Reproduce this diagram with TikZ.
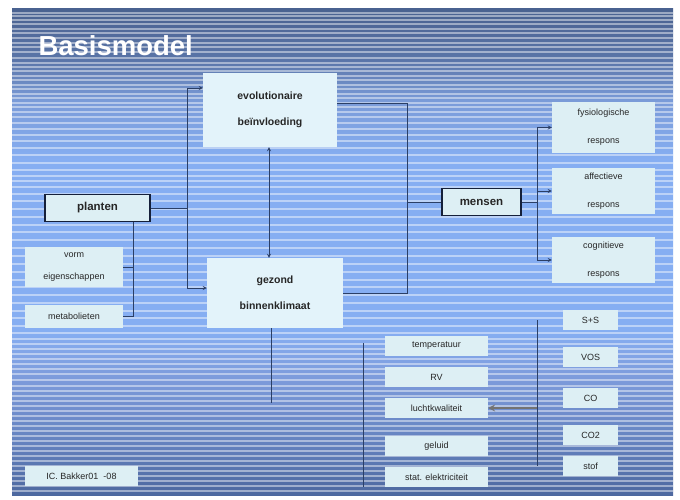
\documentclass[tikz,border=0pt]{standalone}
\usepackage{fontspec}
\setmainfont{Liberation Sans}
\usetikzlibrary{arrows}
\definecolor{linec}{HTML}{2B3F66}
\definecolor{boxc}{HTML}{DDEFF4}
\definecolor{bigboxc}{HTML}{E3F3FA}
\definecolor{framec}{HTML}{15203A}
\definecolor{bgA}{HTML}{4A6290}
\definecolor{bgB}{HTML}{5A75A8}
\definecolor{bgC}{HTML}{7A9BD8}
\definecolor{bgD}{HTML}{86AEF2}
\definecolor{bgE}{HTML}{7C9ADA}
\definecolor{bgF}{HTML}{6583C0}
\definecolor{bgG}{HTML}{4D689F}
\pgfdeclareverticalshading{slidebg}{100bp}{color(0bp)=(bgG); color(25bp)=(bgG);
  color(30.7bp)=(bgF); color(36.8bp)=(bgE); color(42bp)=(bgD); color(59.5bp)=(bgD);
  color(65.6bp)=(bgC); color(69.8bp)=(bgB); color(75bp)=(bgA); color(100bp)=(bgA)}
\tikzstyle{bigbox} = [rectangle,
fill=bigboxc,
minimum width=134pt,
minimum height=72pt,
align=center,
text=black!85,
font=\fontsize{10.5}{26}\selectfont\bfseries]
\tikzstyle{keybox} = [rectangle,
fill=boxc,
draw=framec,
line width=1.6pt,
minimum height=27pt,
text=black!85,
font=\fontsize{11.5}{14}\selectfont\bfseries]
\tikzstyle{smallbox} = [rectangle,
fill=boxc,
minimum width=103pt,
minimum height=20pt,
align=center,
text=black!85,
font=\fontsize{9}{22}\selectfont]
\tikzstyle{stripe} = [white, opacity=0.45, line width=1.3pt]
\tikzstyle{line} = [draw=linec, line width=0.5pt]
\tikzstyle{arrow} = [draw=linec, line width=0.8pt, ->, >=stealth]
\tikzstyle{fatarrow} = [draw=black!55, line width=2pt, ->, >=stealth]

\begin{document}
\begin{tikzpicture}[x=1pt, y=-1pt, node distance=31pt]
\useasboundingbox (0,0) rectangle (680,500);

% slide background
\shade[shading=slidebg] (12,9) rectangle (673,495);
\foreach \y in {13,16,20,24,29,33,38,43,47,52,58,63,67,71,76,80,85,89,94,98,103,107,
  112,117,123,129,135,141,148,155,163,170,176,181,187,194,201,209,217,225,232,240,
  248,256,264,272,280,287,295,303,311,318,326,333,339,344,349,354,359,364,369,374,
  380,386,391,396,401,406,411,416,421,426,431,436,441,446,451,456,461,466,471,476,481,486,491}
  \draw[stripe] (12,\y) -- (673,\y);

\node (title) [anchor=base west, text=white, font=\fontsize{27.5}{30}\selectfont\bfseries] at (35,56) {Basismodel};

\node (evo) [bigbox, minimum height=74pt] at (270,110) {evolutionaire\\beïnvloeding};

\node (gez) [bigbox, minimum width=136pt, minimum height=70pt] at (275,293) {gezond\\binnenklimaat};

\node (planten) [keybox, minimum width=105pt] at (97.5,208) {planten};

\node (vorm) [smallbox, minimum width=98pt, minimum height=40pt] at (74,267) {vorm\\eigenschappen};

\node (metab) [smallbox, minimum width=98pt, minimum height=23pt] at (74,316.5) {metabolieten};

\node (mensen) [keybox, minimum width=79pt] at (481.5,202) {mensen};

\node (fysio) [smallbox, minimum height=51pt, font=\fontsize{9}{28}\selectfont] at (603.5,127.5) {fysiologische\\respons};

\node (affect) [smallbox, minimum height=46pt, font=\fontsize{9}{28}\selectfont] at (603.5,191) {affectieve\\respons};

\node (cogn) [smallbox, minimum height=46pt, font=\fontsize{9}{28}\selectfont] at (603.5,260) {cognitieve\\respons};

\node (temp) [smallbox] at (436.5,346) {temperatuur};

\node (rv) [smallbox, below of=temp] {RV};

\node (lucht) [smallbox, below of=rv] {luchtkwaliteit};

\node (geluid) [smallbox, below of=lucht, yshift=-7pt] {geluid};

\node (stat) [smallbox, below of=geluid] {stat. elektriciteit};

\node (ss) [smallbox, minimum width=55pt] at (590.5,320) {S+S};

\node (vos) [smallbox, minimum width=55pt] at (590.5,357) {VOS};

\node (co) [smallbox, minimum width=55pt] at (590.5,398) {CO};

\node (co2) [smallbox, minimum width=55pt] at (590.5,435) {CO2};

\node (stof) [smallbox, minimum width=55pt] at (590.5,466) {stof};

\node (credit) [smallbox, minimum width=113pt] at (81.5,476) {IC. Bakker01 \ -08};

\coordinate (split) at (187,208);
\coordinate (pbus) at (133,316.5);
\coordinate (rb) at (407,293);
\coordinate (mb) at (537,202);
\coordinate (gb) at (271,403);
\coordinate (lb) at (363,343);
\coordinate (pb) at (537,320);

\draw [line] (planten.east) -- (split);

\draw [line] ([yshift=22pt]evo.west -| split) -- ([yshift=5pt]gez.west -| split);

\draw [arrow] ([yshift=22pt]evo.west -| split) -- ([yshift=22pt]evo.west);

\draw [arrow] ([yshift=5pt]gez.west -| split) -- ([yshift=5pt]gez.west);

\draw [line] (pbus |- planten.south) -- (pbus) -- (metab.east);

\draw [line] (vorm.east) -- (vorm.east -| pbus);

\draw [arrow, <->] (evo.south -| 269,0) -- (gez.north -| 269,0);

\draw [line] ([yshift=7pt]evo.east) -| (rb) -- (rb -| gez.east);

\draw [line] (rb |- mensen.west) -- (mensen.west);

\draw [line] (mensen.east) -- (mb);

\draw [line] (mb |- fysio.west) -- (mb |- cogn.west);

\draw [arrow] (mb |- fysio.west) -- (fysio.west);

\draw [arrow] (mb |- affect.west) -- (affect.west);

\draw [arrow] (mb |- cogn.west) -- (cogn.west);

\draw [line] (gez.south -| gb) -- (gb);

\draw [line] (lb) -- (lb |- stat.south);

\draw [line] (pb) -- (pb |- stof.west);

\draw [fatarrow] (pb |- lucht.east) -- (lucht.east);

\end{tikzpicture}
\end{document}
